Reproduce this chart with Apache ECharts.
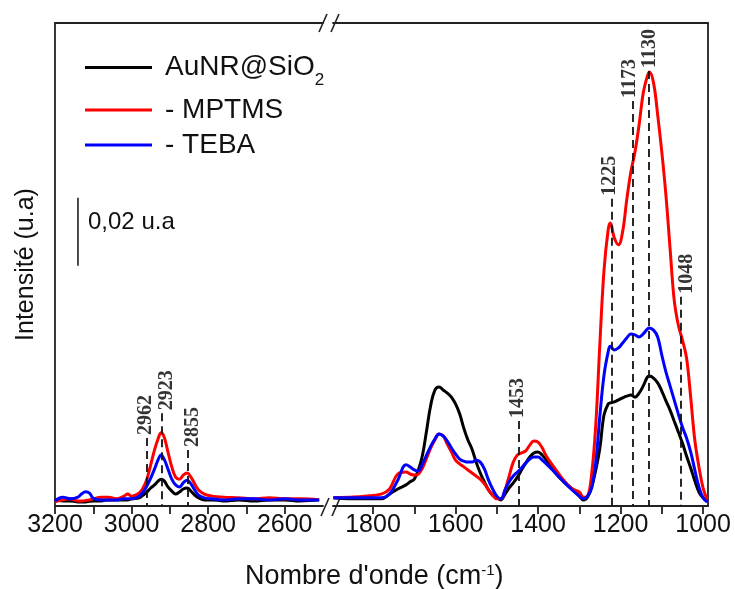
<!DOCTYPE html>
<html>
<head>
<meta charset="utf-8">
<script src="https://cdn.jsdelivr.net/npm/echarts@6/dist/echarts.min.js"></script>
<style>
  html, body { margin: 0; padding: 0; background: #fff; }
  #chart { width: 735px; height: 589px; }
</style>
</head>
<body>
<div id="chart"></div>
<script>
// partie haute du spectre (3200 - 2500 cm-1)
const wnHigh = [3200, 3180, 3160, 3140, 3130, 3120, 3110, 3100, 3080, 3060, 3040, 3020, 3010, 3000, 2980, 2970, 2960, 2950, 2940, 2930, 2923, 2915, 2905, 2895, 2885, 2875, 2865, 2855, 2845, 2835, 2825, 2810, 2790, 2760, 2720, 2680, 2640, 2600, 2560, 2510];
const blackHigh = [-0.0002, -0.0005, -0.0005, -0.0008, -0.0008, -0.0008, -0.0006, -0.0005, -0.0005, -0.0002, -0.0002, -0.0002, -0.0002, 0.0001, 0.0004, 0.0012, 0.0021, 0.0033, 0.0042, 0.0054, 0.0059, 0.0054, 0.0036, 0.0024, 0.0015, 0.0021, 0.0030, 0.0033, 0.0024, 0.0012, 0.0004, -0.0002, -0.0002, -0.0005, -0.0002, -0.0005, -0.0002, -0.0002, -0.0005, -0.0002];
const redHigh = [-0.0008, -0.0002, 0.0001, -0.0005, -0.0005, -0.0004, -0.0002, 0.0001, 0.0006, 0.0006, 0.0001, 0.0009, 0.0015, 0.0009, 0.0018, 0.0033, 0.0059, 0.0101, 0.0145, 0.0180, 0.0195, 0.0183, 0.0139, 0.0095, 0.0065, 0.0059, 0.0071, 0.0077, 0.0065, 0.0045, 0.0027, 0.0015, 0.0009, 0.0006, 0.0004, 0.0001, 0.0004, 0.0001, 0.0001, -0.0002];
const blueHigh = [-0.0005, 0.0006, 0.0001, 0.0006, 0.0016, 0.0022, 0.0018, 0.0003, -0.0002, -0.0002, -0.0002, 0.0001, 0.0001, 0.0001, 0.0009, 0.0021, 0.0039, 0.0062, 0.0089, 0.0118, 0.0130, 0.0118, 0.0089, 0.0059, 0.0042, 0.0036, 0.0048, 0.0056, 0.0045, 0.0027, 0.0012, 0.0004, 0.0001, -0.0002, 0.0001, 0.0001, -0.0002, 0.0001, -0.0002, -0.0002];

// partie basse du spectre (1900 - 990 cm-1)
const wnLow = [1896, 1860, 1820, 1780, 1760, 1740, 1720, 1710, 1700, 1690, 1680, 1670, 1660, 1650, 1640, 1630, 1620, 1610, 1600, 1590, 1580, 1570, 1560, 1550, 1540, 1530, 1520, 1510, 1500, 1490, 1480, 1470, 1460, 1450, 1440, 1430, 1420, 1410, 1400, 1390, 1380, 1360, 1340, 1320, 1300, 1290, 1280, 1270, 1260, 1250, 1240, 1230, 1225, 1215, 1205, 1195, 1185, 1175, 1165, 1155, 1145, 1135, 1130, 1120, 1110, 1100, 1090, 1080, 1070, 1060, 1050, 1040, 1030, 1020, 1010, 1000, 990];
const blackLow = [0.0004, 0.0001, 0.0001, 0.0001, 0.0015, 0.0030, 0.0042, 0.0051, 0.0059, 0.0086, 0.0130, 0.0203, 0.0277, 0.0321, 0.0330, 0.0321, 0.0312, 0.0300, 0.0280, 0.0251, 0.0209, 0.0174, 0.0147, 0.0109, 0.0077, 0.0051, 0.0027, 0.0012, 0.0004, -0.0002, 0.0015, 0.0033, 0.0048, 0.0065, 0.0086, 0.0106, 0.0124, 0.0136, 0.0139, 0.0130, 0.0115, 0.0080, 0.0054, 0.0033, 0.0009, -0.0002, 0.0006, 0.0036, 0.0086, 0.0151, 0.0248, 0.0280, 0.0283, 0.0286, 0.0292, 0.0298, 0.0303, 0.0306, 0.0300, 0.0312, 0.0333, 0.0359, 0.0362, 0.0356, 0.0342, 0.0318, 0.0289, 0.0262, 0.0230, 0.0198, 0.0165, 0.0127, 0.0092, 0.0054, 0.0021, 0.0004, -0.0005];
const redLow = [0.0004, 0.0006, 0.0009, 0.0015, 0.0030, 0.0074, 0.0080, 0.0074, 0.0071, 0.0074, 0.0092, 0.0121, 0.0151, 0.0174, 0.0192, 0.0186, 0.0162, 0.0139, 0.0115, 0.0104, 0.0095, 0.0086, 0.0077, 0.0068, 0.0059, 0.0045, 0.0027, 0.0012, 0.0001, 0.0001, 0.0027, 0.0068, 0.0109, 0.0130, 0.0136, 0.0142, 0.0159, 0.0171, 0.0168, 0.0151, 0.0127, 0.0092, 0.0059, 0.0033, 0.0021, 0.0006, 0.0009, 0.0074, 0.0220, 0.0460, 0.0674, 0.0792, 0.0812, 0.0768, 0.0748, 0.0786, 0.0880, 0.0962, 0.1021, 0.1101, 0.1194, 0.1244, 0.1256, 0.1224, 0.1130, 0.1021, 0.0894, 0.0738, 0.0586, 0.0512, 0.0468, 0.0415, 0.0300, 0.0174, 0.0095, 0.0033, -0.0002];
const blueLow = [0.0004, 0.0004, 0.0004, 0.0004, 0.0015, 0.0056, 0.0101, 0.0095, 0.0086, 0.0083, 0.0104, 0.0130, 0.0156, 0.0177, 0.0192, 0.0186, 0.0171, 0.0151, 0.0133, 0.0118, 0.0112, 0.0109, 0.0109, 0.0115, 0.0109, 0.0089, 0.0056, 0.0030, 0.0009, 0.0001, 0.0027, 0.0051, 0.0068, 0.0080, 0.0092, 0.0106, 0.0118, 0.0124, 0.0124, 0.0115, 0.0104, 0.0080, 0.0054, 0.0030, 0.0009, 0.0001, 0.0009, 0.0033, 0.0109, 0.0247, 0.0365, 0.0433, 0.0450, 0.0439, 0.0445, 0.0459, 0.0474, 0.0486, 0.0483, 0.0477, 0.0486, 0.0500, 0.0503, 0.0497, 0.0477, 0.0424, 0.0374, 0.0333, 0.0292, 0.0251, 0.0212, 0.0180, 0.0139, 0.0086, 0.0036, 0.0004, -0.0008];

const seriesNames = ['AuNR@SiO2', '- MPTMS', '- TEBA'];
const seriesColors = ['#000000', '#ff0000', '#0000ff'];

// graduations
const labelsHigh = [3200, 3000, 2800, 2600];
const ticksHigh = [3200, 3100, 3000, 2900, 2800, 2700, 2600];
const labelsLow = [1800, 1600, 1400, 1200, 1000];
const ticksLow = [1800, 1700, 1600, 1500, 1400, 1300, 1200, 1100, 1000];

// bandes annotees
const peakText = ['2962', '2923', '2855', '1453', '1225', '1173', '1130', '1048'];
const peakWn = [2960, 2921, 2853, 1447, 1222, 1170, 1131, 1053];
const peakTop = [0.0180, 0.0253, 0.0145, 0.0230, 0.0883, 0.1171, 0.1259, 0.0595];
const labelWn = [2963, 2908, 2840, 1448, 1225, 1177, 1128, 1039];

// barre d'echelle 0,02 u.a
const scaleWn = 3140;
const scaleY = [0.0686, 0.0886];

const yMin = -0.002, yMax = 0.140;
const font = '"Liberation Sans", Arial, sans-serif';
const axisStyle = { color: '#222', width: 1.8 };

function pairs(xs, ys) {
  return xs.map((x, i) => [x, ys[i]]);
}

const chart = echarts.init(document.getElementById('chart'));

const curveSeries = [];
[[blackHigh, blackLow], [redHigh, redLow], [blueHigh, blueLow]].forEach((d, i) => {
  [[wnHigh, d[0], 0], [wnLow, d[1], 1]].forEach(seg => {
    curveSeries.push({
      name: seriesNames[i],
      type: 'line',
      xAxisIndex: seg[2],
      yAxisIndex: seg[2],
      data: pairs(seg[0], seg[1]),
      smooth: 0.4,
      showSymbol: false,
      itemStyle: { color: seriesColors[i] },
      lineStyle: { color: seriesColors[i], width: 3 },
      z: 3
    });
  });
});

function peakSeries(axis) {
  const idx = peakWn.map((w, i) => i).filter(i => (axis === 0) === (peakWn[i] > 2000));
  return {
    type: 'scatter',
    xAxisIndex: axis,
    yAxisIndex: axis,
    symbolSize: 1,
    itemStyle: { color: 'rgba(0,0,0,0)' },
    silent: true,
    z: 4,
    data: idx.map(i => ({ name: peakText[i], value: [labelWn[i], peakTop[i]] })),
    label: {
      show: true,
      formatter: '{b}',
      position: 'inside',
      rotate: 90,
      align: 'left',
      verticalAlign: 'middle',
      padding: [0, 0, 0, 3],
      fontFamily: '"Liberation Serif", "Times New Roman", serif',
      fontSize: 20,
      fontWeight: 'bold',
      color: '#000'
    },
    markLine: {
      silent: true,
      symbol: ['none', 'none'],
      label: { show: false },
      lineStyle: { type: [8, 5], color: '#111', width: 1.8 },
      data: idx.map(i => [{ coord: [peakWn[i], peakTop[i]] }, { coord: [peakWn[i], yMin] }])
    }
  };
}

function xAxisDef(grid, pos, min, max, labels, ticks) {
  const main = pos === 'bottom';
  return {
    gridIndex: grid,
    type: 'value',
    position: pos,
    inverse: true,
    min: min,
    max: max,
    axisLine: { show: true, onZero: false, lineStyle: axisStyle },
    axisTick: { show: main, length: 8, customValues: ticks, lineStyle: axisStyle },
    axisLabel: {
      show: main, customValues: labels, margin: 7,
      formatter: v => String(v),
      fontSize: 25, fontFamily: font, color: '#111'
    },
    splitLine: { show: false }
  };
}

function yAxisDef(grid, pos) {
  const ax = {
    gridIndex: grid,
    type: 'value',
    position: pos,
    min: yMin,
    max: yMax,
    axisLine: { show: true, onZero: false, lineStyle: axisStyle },
    axisTick: { show: false },
    axisLabel: { show: false },
    splitLine: { show: false }
  };
  if (grid === 0) {
    ax.name = 'Intensité (u.a)';
    ax.nameLocation = 'middle';
    ax.nameGap = 16;
    ax.nameTextStyle = { fontSize: 25, fontFamily: font, color: '#111' };
  }
  return ax;
}

const legendTop = [46, 96, 131];

const option = {
  animation: false,
  backgroundColor: '#fff',
  title: {
    text: "Nombre d'onde (cm{sup|-1})",
    left: 245,
    top: 563,
    padding: 0,
    textStyle: {
      fontSize: 27, fontWeight: 'normal', fontFamily: font, color: '#111', lineHeight: 27,
      rich: { sup: { fontSize: 15, lineHeight: 15, verticalAlign: 'top', fontFamily: font, color: '#111' } }
    }
  },
  legend: seriesNames.map((n, i) => ({
    data: [n],
    left: 85,
    top: legendTop[i],
    padding: 0,
    icon: 'rect',
    itemWidth: 67,
    itemHeight: 3,
    selectedMode: false,
    formatter: name => name === 'AuNR@SiO2' ? 'AuNR@SiO{sub|2}' : name,
    textStyle: {
      fontSize: 28, fontFamily: font, color: '#111', lineHeight: 28, padding: [0, 0, 0, 8],
      rich: { sub: { fontSize: 17, lineHeight: 17, padding: [26, 0, 0, 0], fontFamily: font, color: '#111' } }
    }
  })),
  grid: [
    { left: 55, top: 23, width: 268, height: 483, outerBoundsMode: 'none' },
    { left: 333, top: 23, width: 375, height: 483, outerBoundsMode: 'none' }
  ],
  xAxis: [
    xAxisDef(0, 'bottom', 2500, 3200, labelsHigh, ticksHigh),
    xAxisDef(1, 'bottom', 988, 1897, labelsLow, ticksLow),
    xAxisDef(0, 'top', 2500, 3200, [], []),
    xAxisDef(1, 'top', 988, 1897, [], [])
  ],
  yAxis: [yAxisDef(0, 'left'), yAxisDef(1, 'right')],
  series: curveSeries.concat([
    {
      type: 'line',
      xAxisIndex: 0,
      yAxisIndex: 0,
      data: scaleY.map(v => [scaleWn, v]),
      showSymbol: false,
      silent: true,
      lineStyle: { color: '#111', width: 1.5 }
    },
    peakSeries(0),
    peakSeries(1)
  ]),
  graphic: [
    { type: 'text', left: 88, top: 210, style: { text: '0,02 u.a', font: '24px ' + font, fill: '#111' } },
    // coupures de l'axe
    { type: 'line', shape: { x1: 319, y1: 32, x2: 327, y2: 14 }, style: { stroke: '#222', lineWidth: 1.6 } },
    { type: 'line', shape: { x1: 331, y1: 32, x2: 339, y2: 14 }, style: { stroke: '#222', lineWidth: 1.6 } },
    { type: 'line', shape: { x1: 321, y1: 516, x2: 329, y2: 498 }, style: { stroke: '#222', lineWidth: 1.6 } },
    { type: 'line', shape: { x1: 332, y1: 516, x2: 340, y2: 498 }, style: { stroke: '#222', lineWidth: 1.6 } }
  ]
};

chart.setOption(option);
</script>
</body>
</html>
